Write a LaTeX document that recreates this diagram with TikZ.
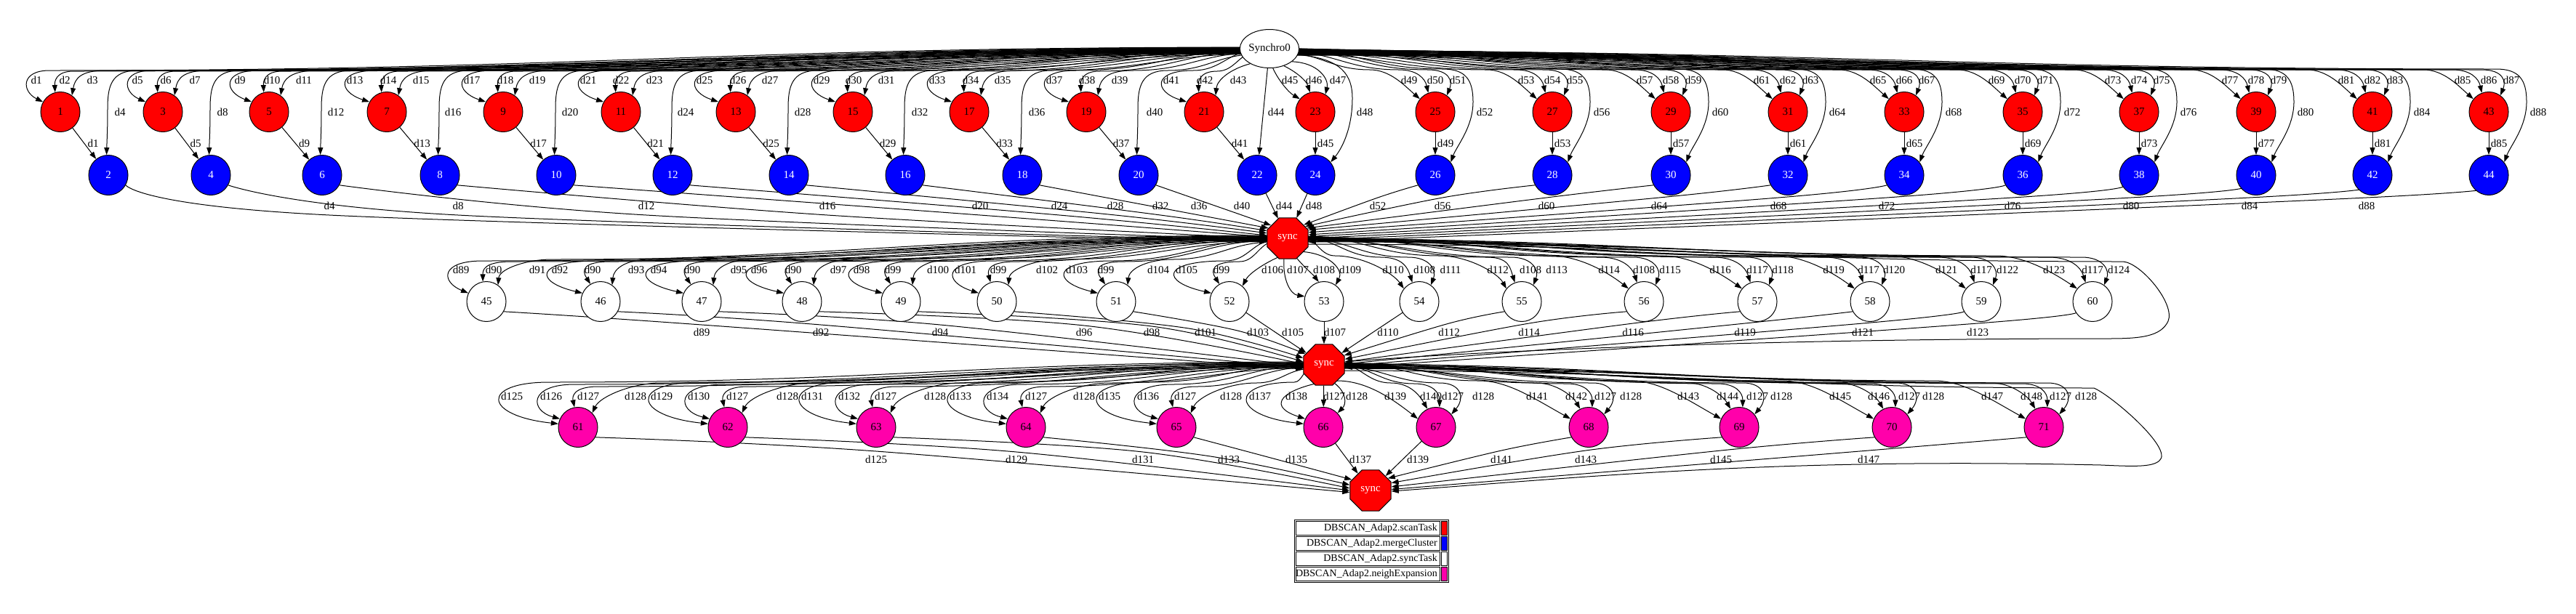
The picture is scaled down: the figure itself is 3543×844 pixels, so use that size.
\documentclass[tikz,border=0pt]{standalone}
\usepackage{fontspec}
\setmainfont{Liberation Serif}
\usetikzlibrary{arrows.meta,shapes.geometric}
\pgfdeclarelayer{bg}
\pgfsetlayers{bg,main}
\definecolor{pinkc}{RGB}{255,0,170}
\tikzset{
  fs/.style={font=\fontsize{15}{15}\selectfont},
  nd/.style={ellipse, draw, line width=1pt, minimum width=54pt, minimum height=55pt, inner sep=0pt, fs},
  rn/.style={nd, fill=red},
  bn/.style={nd, fill=blue, text=white},
  wn/.style={nd, fill=white},
  pn/.style={nd, fill=pinkc},
  sn/.style={regular polygon, regular polygon sides=8, draw, line width=1pt, fill=red, text=white, minimum size=61pt, inner sep=0pt, fs},
  ed/.style={line width=1pt, -{Triangle[length=10pt,width=7pt]}},
  lb/.style={inner sep=0pt, fs},
  sc/.style n args={4}{insert path={({#1},{#2}) .. controls ({#1-0.45*((#1)-(#3))},{#2}) and ({#3+0.45*((#1)-(#3))},{#4}) .. ({#3},{#4})}},
}
\begin{document}
\begin{tikzpicture}[x=1pt,y=-1pt]
\useasboundingbox (0,0) rectangle (3543,844);

% ---------------- nodes ----------------
\node[wn, minimum width=78pt, minimum height=53pt] (S) at (1746,67) {Synchro0};
\foreach \na/\nb/\xr/\xb in {1/2/83/149, 3/4/224/290, 5/6/370/443, 7/8/532/605, 9/10/692/765, 11/12/854/925, 13/14/1012/1085, 15/16/1173/1245, 17/18/1333/1406, 19/20/1494/1566, 21/22/1656/1729, 23/24/1809/1809, 25/26/1974/1974, 27/28/2135/2135, 29/30/2298/2298, 31/32/2459/2459, 33/34/2619/2619, 35/36/2782/2782, 37/38/2942/2942, 39/40/3103/3103, 41/42/3263/3263, 43/44/3423/3423}{
  \node[rn] (n\na) at (\xr,154) {\na};
  \node[bn] (n\nb) at (\xb,241) {\nb};
}
\node[sn] (s1) at (1771,328) {sync};
\node[sn] (s2) at (1821,502) {sync};
\node[sn] (s3) at (1885,675) {sync};
\foreach \n/\x in {45/669,46/826,47/965,48/1103,49/1239,50/1371,51/1535,52/1691,53/1821,54/1952,55/2093,56/2261,57/2417,58/2572,59/2725,60/2878}
  \node[wn] (n\n) at (\x,415) {\n};
\foreach \n/\x in {61/795,62/1001,63/1205,64/1411,65/1618,66/1820,67/1975,68/2185,69/2392,70/2602,71/2811}
  \node[pn] (n\n) at (\x,588) {\n};

% legend
\draw[line width=1pt] (1780,715) rectangle (1992,801);
\foreach \k/\txt/\col in {0/scanTask/red,1/mergeCluster/blue,2/syncTask/white,3/neighExpansion/pinkc}{
  \draw[line width=1pt, fill=white] (1782,{717+21*\k}) rectangle (1980,{736+21*\k});
  \draw[line width=1pt, fill=\col] (1982,{717+21*\k}) rectangle (1990,{736+21*\k});
  \node[anchor=east, inner sep=0pt, font=\fontsize{14}{14}\selectfont] (lg\k) at (1977,{727+21*\k}) {DBSCAN\_Adap2.\txt};
}

\begin{pgfonlayer}{bg}
% ---------------- top, left half ----------------
\foreach \i/\na/\nb/\xr/\xb/\la/\lb/\lc/\ld/\lm/\sa in {
0/1/2/83/149/50/89/127/165/453/190,
1/3/4/224/290/189/228/268/306/630/187,
2/5/6/370/443/330/374/418/462/889/184,
3/7/8/532/605/488/534/579/623/1138/180,
4/9/10/692/765/649/695/739/784/1348/176,
5/11/12/854/925/809/854/900/943/1457/172,
6/13/14/1012/1085/969/1015/1059/1104/1534/166,
7/15/16/1173/1245/1130/1174/1219/1265/1596/160,
8/17/18/1333/1406/1289/1335/1379/1426/1649/152,
9/19/20/1494/1566/1450/1495/1540/1588/1708/142}{
  \pgfmathtruncatemacro\da{4*\i+1}
  \pgfmathtruncatemacro\db{4*\i+2}
  \pgfmathtruncatemacro\dc{4*\i+3}
  \pgfmathtruncatemacro\dd{4*\i+4}
  \draw[ed] [sc={1730}{65+0.4*\i}{\xr-15}{97}] .. controls ({(\la-8.25-0.25*\xr)/0.75},97) and ({(\la-8.25-0.25*\xr)/0.75+2},126) .. (n\na.150);
  \draw[ed] [sc={1730}{67+0.4*\i}{\xr+18}{98}] .. controls ({\xr-6},98) and ({\xr-8},112) .. (n\na.105);
  \draw[ed] [sc={1730}{69+0.4*\i}{\lc+18}{97}] .. controls ({\lc-16},97) and ({\xr+20},108) .. (n\na.55);
  \draw[ed] [sc={1730}{71+0.4*\i}{\xb+40}{97}] .. controls ({\xb+3},97) and ({\xb-1},120) .. ({\xb-1},150) .. controls ({\xb-1},180) and ({\xb-2},195) .. (n\nb.95);
  \draw[ed] (n\na) -- (n\nb);
  \draw[ed] plot[smooth,tension=0.6] coordinates {(n\nb.-30) (\lm,296) (s1.\sa)};
  \node[lb] (ta\i) at (\la,110) {d\da};
  \node[lb] (tb\i) at (\lb,110) {d\db};
  \node[lb] (tc\i) at (\lc,110) {d\dc};
  \node[lb] (td\i) at (\ld,154) {d\dd};
  \node[lb] (te\i) at ({(\xr+\xb)/2+12},197) {d\da};
  \node[lb] (tf\i) at (\lm,283) {d\dd};
}
% pair 21/22
\draw[ed] [sc={1730}{69}{1641}{97}] .. controls (1585,97) and (1587,126) .. (n21.150);
\draw[ed] [sc={1730}{71}{1674}{98}] .. controls (1650,98) and (1648,112) .. (n21.105);
\draw[ed] (S.218) .. controls (1692,95) and (1674,110) .. (n21.55);
\draw[ed] (S) -- (n22);
\draw[ed] (n21) -- (n22);
\draw[ed] (n22) -- (s1);
\node[lb] (ta10) at (1611,110) {d41};
\node[lb] (tb10) at (1657,110) {d42};
\node[lb] (tc10) at (1703,110) {d43};
\node[lb] (td10) at (1755,154) {d44};
\node[lb] (te10) at (1705,197) {d41};
\node[lb] (tf10) at (1766,283) {d44};
% pair 23/24
\draw[ed] (S.-80) .. controls (1758,110) and (1772,127) .. (n23.140);
\draw[ed] (S.-50) .. controls (1785,100) and (1797,112) .. (n23.105);
\draw[ed] (S.-30) .. controls (1812,86) and (1828,108) .. (n23.60);
\draw[ed] (S.-12) .. controls (1835,80) and (1860,95) .. (1860,135) .. controls (1860,178) and (1845,205) .. (n24.40);
\draw[ed] (n23) -- (n24);
\draw[ed] (n24) -- (s1);
\node[lb] (ta11) at (1774,110) {d45};
\node[lb] (tb11) at (1807,110) {d46};
\node[lb] (tc11) at (1840,110) {d47};
\node[lb] (td11) at (1877,154) {d48};
\node[lb] (te11) at (1823,197) {d45};
\node[lb] (tf11) at (1807,283) {d48};
% ---------------- top, right half ----------------
\foreach \i/\na/\nb/\xr/\lm/\sa in {12/25/26/1974/1895/40, 13/27/28/2135/1984/34, 14/29/30/2298/2127/28, 15/31/32/2459/2282/22, 16/33/34/2619/2446/16, 17/35/36/2782/2595/10, 18/37/38/2942/2768/5, 19/39/40/3103/2931/0, 20/41/42/3263/3094/-5, 21/43/44/3423/3255/-10}{
  \pgfmathtruncatemacro\da{4*\i+1}
  \pgfmathtruncatemacro\db{4*\i+2}
  \pgfmathtruncatemacro\dc{4*\i+3}
  \pgfmathtruncatemacro\dd{4*\i+4}
  \draw[ed] [sc={1762}{72+0.4*(\i-11)}{\xr-90}{96}] .. controls ({\xr-62},96) and ({\xr-42},118) .. (n\na.140);
  \draw[ed] [sc={1762}{70+0.4*(\i-11)}{\xr-50}{96}] .. controls ({\xr-25},96) and ({\xr-14},108) .. (n\na.110);
  \draw[ed] [sc={1762}{68+0.4*(\i-11)}{\xr-10}{96}] .. controls ({\xr+20},96) and ({\xr+24},112) .. (n\na.55);
  \draw[ed] [sc={1762}{66+0.4*(\i-11)}{\xr+10}{95}] .. controls ({\xr+42},95) and ({\xr+52},110) .. ({\xr+52},140) .. controls ({\xr+52},175) and ({\xr+30},200) .. (n\nb.40);
  \draw[ed] (n\na) -- (n\nb);
  \draw[ed] plot[smooth,tension=0.6] coordinates {(n\nb.-150) (\lm,272) (s1.\sa)};
  \node[lb] (ta\i) at ({\xr-36},110) {d\da};
  \node[lb] (tb\i) at ({\xr},110) {d\db};
  \node[lb] (tc\i) at ({\xr+31},110) {d\dc};
  \node[lb] (td\i) at ({\xr+68},154) {d\dd};
  \node[lb] (te\i) at ({\xr+14},197) {d\da};
  \node[lb] (tf\i) at (\lm,283) {d\dd};
}

% ---------------- middle ----------------
\foreach \n/\xw/\la/\lb/\lc/\ta/\tb/\tc/\bt/\mx/\my/\lx/\sa/\k in {
45/669/634/679/739/89/90/91/100/965/447/965/192/0,
46/826/770/815/875/92/90/93/120/1129/447/1129/188/1,
47/965/906/952/1016/94/90/95/122/1293/447/1293/184/2,
48/1103/1044/1091/1153/96/90/97/120/1491/448/1491/178/3,
49/1239/1185/1228/1290/98/99/100/120/1584/449/1584/172/4,
50/1371/1328/1373/1440/101/99/102/108/1635/452/1658/162/5,
51/1535/1481/1521/1593/103/99/104/122/1702/455/1730/150/6}{
  \draw[ed] [sc={1755}{324+0.8*\k}{\xw-5}{359}] .. controls ({(\la-13.3-0.25*\xw)/0.75},359) and ({(\la-13.3-0.25*\xw)/0.75+2},388) .. (n\n.155);
  \draw[ed] [sc={1755}{326+0.8*\k}{\lb+25}{360}] .. controls ({\lb-14},360) and ({\lb-15},372) .. (n\n.\bt);
  \draw[ed] [sc={1755}{328+0.8*\k}{\lc+20}{357}] .. controls ({\lc-15},357) and ({\xw+18},370) .. (n\n.55);
  \draw[ed] plot[smooth,tension=0.6] coordinates {(n\n.-30) (\mx,\my) (s2.\sa)};
  \node[lb] (ma\n) at (\la,371) {d\ta};
  \node[lb] (mb\n) at (\lb,371) {d\tb};
  \node[lb] (mc\n) at (\lc,371) {d\tc};
  \node[lb] (md\n) at (\lx,457) {d\ta};
}
% node 52
\draw[ed] [sc={1755}{330}{1686}{359}] .. controls (1595,359) and (1597,388) .. (n52.155);
\draw[ed] [sc={1755}{332}{1705}{360}] .. controls (1666,360) and (1665,372) .. (n52.120);
\draw[ed] (s1.-118) .. controls (1740,362) and (1718,376) .. (n52.50);
\draw[ed] (n52) -- (s2);
\node[lb] (ma52) at (1632,371) {d105};
\node[lb] (mb52) at (1680,371) {d99};
\node[lb] (mc52) at (1750,371) {d106};
\node[lb] (md52) at (1778,457) {d105};
% node 53
\draw[ed] (s1.-100) .. controls (1764,385) and (1775,405) .. (n53.165);
\draw[ed] (s1.-65) .. controls (1794,368) and (1806,378) .. (n53.105);
\draw[ed] (s1.-40) .. controls (1830,350) and (1848,372) .. (n53.55);
\draw[ed] (n53) -- (s2);
\node[lb] (ma53) at (1785,371) {d107};
\node[lb] (mb53) at (1821,371) {d108};
\node[lb] (mc53) at (1857,371) {d109};
\node[lb] (md53) at (1836,457) {d107};
% right side
\foreach \n/\xw/\la/\lb/\lc/\ta/\tb/\tc/\k in {
54/1952/1916/1959/1995/110/108/111/0,
55/2093/2060/2105/2141/112/108/113/1,
56/2261/2213/2261/2297/114/108/115/2,
57/2417/2366/2417/2452/116/117/118/3,
58/2572/2522/2570/2605/119/117/120/4,
59/2725/2677/2725/2761/121/117/122/5,
60/2878/2825/2878/2914/123/117/124/6}{
  \draw[ed] [sc={1787}{324+0.8*\k}{\la-80}{352}] .. controls ({\la-40},352) and ({\la},376) .. (n\n.140);
  \draw[ed] [sc={1787}{326+0.8*\k}{\lb-60}{354}] .. controls ({\lb-30},354) and ({\xw-16},368) .. (n\n.110);
  \draw[ed] [sc={1787}{328+0.8*\k}{\xw-15}{354}] .. controls ({\xw+15},354) and ({\xw+24},372) .. (n\n.55);
  \node[lb] (ma\n) at (\la,371) {d\ta};
  \node[lb] (mb\n) at (\lb,371) {d\tb};
  \node[lb] (mc\n) at (\lc,371) {d\tc};
}
\draw[ed] (n54) -- (s2);
\node[lb] (md54) at (1909,457) {d110};
\foreach \n/\lm/\ta/\sa in {55/1993/112/25, 56/2103/114/15, 57/2246/116/8, 58/2400/119/2, 59/2562/121/-3, 60/2720/123/-8}{
  \draw[ed] plot[smooth,tension=0.6] coordinates {(n\n.-150) (\lm,445) (s2.\sa)};
  \node[lb] (md\n) at (\lm,457) {d\ta};
}
% sync1 -> sync2
\draw[ed] [sc={1787}{336}{2920}{360}] .. controls (2945,362) and (2992,418) .. (2982,442) .. controls (2972,463) and (2945,466) .. (2900,466) .. controls (2450,466) and (2050,482) .. (s2.8);

% ---------------- bottom ----------------
\foreach \n/\xw/\la/\lb/\lc/\ld/\ta/\tb/\mx/\my/\lx/\sa/\k in {
61/795/704/758/809/874/125/126/1205/621/1205/185/0,
62/1001/910/961/1014/1083/129/130/1398/622/1398/180/1,
63/1205/1117/1168/1218/1286/131/132/1572/622/1572/174/2,
64/1411/1321/1372/1425/1491/133/134/1665/628/1690/165/3,
65/1618/1526/1579/1630/1693/135/136/1755/632/1783/150/4}{
  \draw[ed] [sc={1805}{498+0.8*\k}{\xw-40}{526}] .. controls ({(\la-9.7-0.25*\xw)/0.75},526) and ({(\la-9.7-0.25*\xw)/0.75+3},572) .. (n\n.170);
  \draw[ed] [sc={1805}{500+0.8*\k}{\xw-5}{529}] .. controls ({(\lb-14.3-0.25*\xw)/0.75},529) and ({(\lb-14.3-0.25*\xw)/0.75+2},565) .. (n\n.155);
  \draw[ed] [sc={1805}{502+0.8*\k}{\xw+28}{532}] .. controls ({\xw-7},532) and ({\xw-8},546) .. (n\n.100);
  \draw[ed] [sc={1805}{504+0.8*\k}{\ld+35}{527}] .. controls ({\ld-5},527) and ({\xw+30},546) .. (n\n.45);
  \draw[ed] plot[smooth,tension=0.6] coordinates {(n\n.-30) (\mx,\my) (s3.\sa)};
  \node[lb] (ba\n) at (\la,545) {d\ta};
  \node[lb] (bb\n) at (\lb,545) {d\tb};
  \node[lb] (bc\n) at (\lc,545) {d127};
  \node[lb] (bd\n) at (\ld,545) {d128};
  \node[lb] (be\n) at (\lx,632) {d\ta};
}
% node 66
\draw[ed] [sc={1805}{505}{1780}{526}] .. controls (1690,526) and (1693,572) .. (n66.170);
\draw[ed] (s2.-118) .. controls (1760,540) and (1745,560) .. (n66.155);
\draw[ed] (s2) -- (n66);
\draw[ed] (s2.-60) .. controls (1852,540) and (1852,556) .. (n66.45);
\draw[ed] (n66) -- (s3);
\node[lb] (ba66) at (1733,545) {d137};
\node[lb] (bb66) at (1783,545) {d138};
\node[lb] (bc66) at (1835,545) {d127};
\node[lb] (bd66) at (1866,545) {d128};
\node[lb] (be66) at (1871,632) {d137};
% right side
\foreach \n/\xw/\la/\lb/\lc/\ld/\ta/\tb/\k in {
67/1975/1919/1968/1998/2040/139/140/0,
68/2185/2114/2168/2208/2243/141/142/1,
69/2392/2322/2376/2417/2450/143/144/2,
70/2602/2531/2584/2626/2659/145/146/3,
71/2811/2740/2794/2834/2869/147/148/4}{
  \draw[ed] [sc={1837}{498+0.8*\k}{\la-80}{524}] .. controls ({\la-40},524) and ({\la-5},548) .. (n\n.155);
  \draw[ed] [sc={1837}{500+0.8*\k}{\lb-55}{527}] .. controls ({\lb-28},527) and ({\xw-22},545) .. (n\n.115);
  \draw[ed] [sc={1837}{502+0.8*\k}{\xw-30}{528}] .. controls ({\xw-5},528) and ({\xw+5},540) .. (n\n.80);
  \draw[ed] [sc={1837}{504+0.8*\k}{\xw+5}{527}] .. controls ({\xw+35},527) and ({\xw+40},548) .. (n\n.40);
  \node[lb] (ba\n) at (\la,545) {d\ta};
  \node[lb] (bb\n) at (\lb,545) {d\tb};
  \node[lb] (bc\n) at (\lc,545) {d127};
  \node[lb] (bd\n) at (\ld,545) {d128};
}
\draw[ed] (n67) -- (s3);
\node[lb] (be67) at (1950,632) {d139};
\foreach \n/\lm/\ta/\sa in {68/2065/141/35, 69/2181/143/20, 70/2367/145/10, 71/2570/147/3}{
  \draw[ed] plot[smooth,tension=0.6] coordinates {(n\n.-150) (\lm,620) (s3.\sa)};
  \node[lb] (be\n) at (\lm,632) {d\ta};
}
% sync2 -> sync3
\draw[ed] [sc={1837}{510}{2880}{534}] .. controls (2905,545) and (2990,618) .. (2970,634) .. controls (2960,643) and (2935,642) .. (2890,640) .. controls (2450,630) and (2200,655) .. (s3.-2);
\end{pgfonlayer}
\end{tikzpicture}
\end{document}
